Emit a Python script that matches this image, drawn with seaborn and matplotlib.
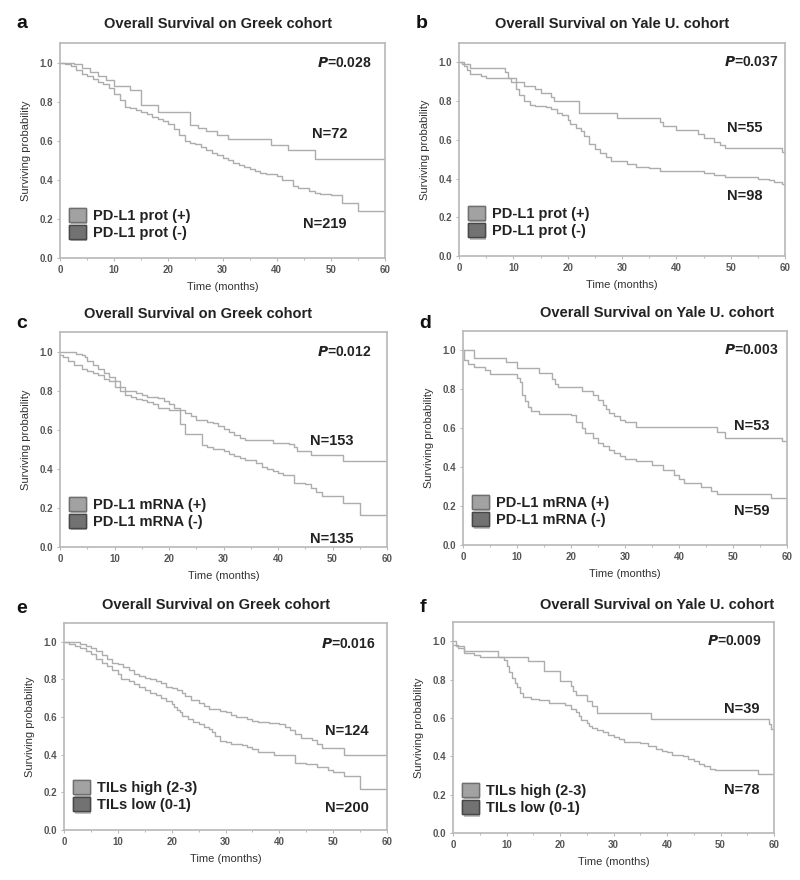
import numpy as np
import pandas as pd
import seaborn as sns
import matplotlib.pyplot as plt
import matplotlib.patheffects as pe
from matplotlib.patches import Patch
from matplotlib.ticker import MultipleLocator

# Kaplan-Meier curves (time in months, surviving probability)

# a) PD-L1 protein, Greek cohort
a_pos_t = [0, 2.5, 4, 5.5, 7, 8.5, 10, 13, 15, 18, 24, 25.5, 27, 29, 31, 39, 42, 47, 60]
a_pos_s = [1.0, 0.99, 0.97, 0.95, 0.93, 0.91, 0.88, 0.86, 0.785, 0.745, 0.68, 0.665, 0.65, 0.63, 0.61, 0.58, 0.55, 0.505, 0.505]
a_neg_t = [0, 1, 2, 3, 4, 5, 6, 7, 8, 9, 10, 11, 12, 13, 14, 15, 16, 17, 18, 19, 20, 21, 22, 23, 24, 25,
           26, 27, 28, 29, 30, 31, 32, 33, 34, 35, 36, 37, 38, 40, 41, 43, 44, 46, 47, 48, 50, 52, 55, 60]
a_neg_s = [1.0, 0.99, 0.98, 0.96, 0.94, 0.93, 0.915, 0.9, 0.89, 0.87, 0.84, 0.81, 0.775, 0.765, 0.755,
           0.745, 0.735, 0.72, 0.71, 0.70, 0.685, 0.66, 0.63, 0.60, 0.59, 0.585, 0.57, 0.55, 0.535, 0.525,
           0.51, 0.50, 0.485, 0.475, 0.465, 0.455, 0.445, 0.435, 0.43, 0.42, 0.40, 0.37, 0.36, 0.345, 0.335,
           0.325, 0.32, 0.28, 0.24, 0.24]

# b) PD-L1 protein, Yale cohort
b_pos_t = [0, 0.5, 2, 8.5, 9, 10.5, 12, 14, 15, 17, 17.5, 22, 29, 37, 37.5, 40, 44, 45, 47, 48, 49, 59.5, 60]
b_pos_s = [1.0, 0.99, 0.97, 0.95, 0.92, 0.90, 0.88, 0.86, 0.84, 0.82, 0.80, 0.74, 0.715, 0.69, 0.67, 0.65,
           0.63, 0.61, 0.59, 0.575, 0.56, 0.535, 0.535]
b_neg_t = [0, 1, 1.5, 2, 4, 5, 9.5, 10.5, 11, 12, 13, 14, 16, 17, 18, 19, 20, 20.5, 21.5, 22.5, 23, 24, 25,
           26, 27, 28, 31, 32.5, 35, 37, 45, 47, 49, 55, 57, 58, 59.5, 60]
b_neg_s = [1.0, 0.98, 0.96, 0.94, 0.93, 0.92, 0.90, 0.86, 0.83, 0.80, 0.78, 0.775, 0.77, 0.76, 0.74, 0.73,
           0.70, 0.68, 0.66, 0.645, 0.62, 0.58, 0.555, 0.53, 0.51, 0.49, 0.475, 0.46, 0.455, 0.44, 0.43,
           0.42, 0.41, 0.40, 0.39, 0.38, 0.37, 0.24]

# c) PD-L1 mRNA, Greek cohort
c_pos_t = [0, 3, 4, 4.5, 5, 6, 7, 8, 9, 10, 11, 12, 14, 15, 16, 18, 19, 20, 21, 22, 23, 24, 25, 27, 28, 29,
           30, 31, 32, 33, 34, 39, 42, 43, 43.5, 46, 52, 60]
c_pos_s = [1.0, 0.99, 0.98, 0.97, 0.95, 0.93, 0.91, 0.89, 0.87, 0.85, 0.82, 0.80, 0.79, 0.78, 0.77, 0.76,
           0.745, 0.73, 0.71, 0.70, 0.685, 0.67, 0.65, 0.64, 0.635, 0.62, 0.605, 0.59, 0.575, 0.56, 0.55,
           0.53, 0.525, 0.51, 0.49, 0.47, 0.44, 0.435]
c_neg_t = [0, 0.5, 1.5, 2.5, 4, 5, 6, 7, 8, 9, 10, 11, 12, 13, 14, 15, 16, 17, 18, 20, 22, 23, 26, 27, 28,
           30, 31, 32, 33, 34, 36, 37, 38, 39, 40, 41, 43, 45, 46, 47, 48, 52, 55, 60]
c_neg_s = [0.98, 0.97, 0.95, 0.93, 0.91, 0.90, 0.89, 0.88, 0.86, 0.85, 0.82, 0.80, 0.78, 0.77, 0.755, 0.75,
           0.74, 0.73, 0.71, 0.70, 0.63, 0.58, 0.52, 0.51, 0.50, 0.49, 0.475, 0.465, 0.455, 0.445, 0.43,
           0.41, 0.40, 0.39, 0.38, 0.37, 0.33, 0.32, 0.30, 0.28, 0.26, 0.225, 0.165, 0.165]

# d) PD-L1 mRNA, Yale cohort
d_pos_t = [0, 2, 8, 10, 14, 16.5, 17, 17.5, 22, 24, 25, 26, 26.5, 27, 28, 29, 30, 32, 47, 48.5, 59, 60]
d_pos_s = [1.0, 0.96, 0.94, 0.91, 0.885, 0.855, 0.83, 0.81, 0.79, 0.77, 0.745, 0.72, 0.70, 0.68, 0.665,
           0.645, 0.63, 0.605, 0.58, 0.55, 0.535, 0.52]
d_neg_t = [0, 0.2, 1, 2, 4, 5, 10, 10.5, 11, 11.5, 12, 12.5, 14, 20, 21, 22, 22.5, 24, 25, 26, 27, 28, 29,
           30, 32, 35, 37, 39, 40, 41, 44, 46, 47, 57, 60]
d_neg_s = [1.0, 0.95, 0.93, 0.915, 0.90, 0.88, 0.86, 0.84, 0.77, 0.74, 0.71, 0.69, 0.675, 0.67, 0.63,
           0.60, 0.575, 0.55, 0.525, 0.51, 0.49, 0.475, 0.455, 0.44, 0.43, 0.41, 0.385, 0.36, 0.34, 0.32,
           0.30, 0.28, 0.26, 0.24, 0.24]

# e) TILs, Greek cohort
e_pos_t = [0, 3, 4, 5, 6, 7, 8, 9, 10, 11, 12, 13, 14, 15, 16, 17, 18, 19, 20, 21, 22, 22.5, 23.5, 25, 26,
           27, 29, 30, 31, 32, 34, 35, 36, 38, 40, 41, 42, 43, 44, 46, 47, 48, 52, 60]
e_pos_s = [1.0, 0.99, 0.98, 0.965, 0.95, 0.93, 0.91, 0.89, 0.88, 0.865, 0.85, 0.83, 0.82, 0.81, 0.80,
           0.79, 0.78, 0.76, 0.755, 0.745, 0.73, 0.71, 0.69, 0.675, 0.66, 0.645, 0.635, 0.625, 0.61, 0.60,
           0.59, 0.58, 0.575, 0.57, 0.565, 0.55, 0.53, 0.51, 0.49, 0.48, 0.455, 0.435, 0.40, 0.40]
e_neg_t = [0, 1, 2, 3, 4, 5, 6, 7, 8, 9, 10, 10.5, 12, 13, 14, 15, 16, 17, 18, 19, 20, 20.5, 21, 21.5, 22,
           23, 24, 25, 26, 27, 27.5, 28, 29, 30, 31, 33, 34, 35, 36, 39, 43, 45, 47, 49, 50, 52, 55, 60]
e_neg_s = [1.0, 0.99, 0.98, 0.965, 0.95, 0.935, 0.91, 0.885, 0.87, 0.85, 0.83, 0.805, 0.79, 0.775, 0.76,
           0.745, 0.73, 0.715, 0.70, 0.685, 0.67, 0.655, 0.64, 0.625, 0.605, 0.59, 0.575, 0.565, 0.55,
           0.535, 0.52, 0.50, 0.475, 0.465, 0.455, 0.45, 0.44, 0.43, 0.415, 0.40, 0.355, 0.35, 0.335,
           0.32, 0.31, 0.285, 0.22, 0.22]

# f) TILs, Yale cohort
f_pos_t = [0, 0.5, 2, 8.5, 14, 17, 20, 22, 22.5, 23, 25, 26, 27, 37, 59, 59.5, 60]
f_pos_s = [1.0, 0.975, 0.95, 0.92, 0.895, 0.845, 0.79, 0.765, 0.74, 0.72, 0.69, 0.66, 0.625, 0.595,
           0.57, 0.54, 0.50]
f_neg_t = [0, 1, 2, 4, 5, 9.5, 10, 10.5, 11, 11.5, 12, 12.5, 13, 14.5, 16, 18, 21, 22, 23, 23.5, 24, 25,
           25.5, 26, 27, 28, 29, 30, 31, 32, 35, 36.5, 38, 39, 40, 41, 43, 44, 45, 46, 47, 48, 49, 57, 60]
f_neg_s = [0.98, 0.965, 0.94, 0.93, 0.915, 0.90, 0.87, 0.84, 0.81, 0.78, 0.76, 0.73, 0.71, 0.70, 0.695,
           0.68, 0.665, 0.645, 0.63, 0.61, 0.59, 0.575, 0.56, 0.55, 0.535, 0.525, 0.51, 0.50, 0.49, 0.475,
           0.47, 0.455, 0.44, 0.43, 0.42, 0.405, 0.40, 0.385, 0.375, 0.36, 0.35, 0.335, 0.33, 0.31, 0.18]

letters = ["a", "b", "c", "d", "e", "f"]
titles = ["Overall Survival on Greek cohort", "Overall Survival on Yale U. cohort"] * 3
p_values = ["0.028", "0.037", "0.012", "0.003", "0.016", "0.009"]
n_pos = ["N=72", "N=55", "N=153", "N=53", "N=124", "N=39"]
n_neg = ["N=219", "N=98", "N=135", "N=59", "N=200", "N=78"]
legend_labels = [("PD-L1 prot (+)", "PD-L1 prot (-)"), ("PD-L1 prot (+)", "PD-L1 prot (-)"),
                 ("PD-L1 mRNA (+)", "PD-L1 mRNA (-)"), ("PD-L1 mRNA (+)", "PD-L1 mRNA (-)"),
                 ("TILs high (2-3)", "TILs low (0-1)"), ("TILs high (2-3)", "TILs low (0-1)")]
curves = [(a_pos_t, a_pos_s, a_neg_t, a_neg_s), (b_pos_t, b_pos_s, b_neg_t, b_neg_s),
          (c_pos_t, c_pos_s, c_neg_t, c_neg_s), (d_pos_t, d_pos_s, d_neg_t, d_neg_s),
          (e_pos_t, e_pos_s, e_neg_t, e_neg_s), (f_pos_t, f_pos_s, f_neg_t, f_neg_s)]

# layout in pixels of an 800x880 canvas: axes box [left, top, right, bottom], title x/y, letter x/y
boxes = [(60, 43, 385, 258), (459, 43, 785, 256), (60, 332, 387, 547),
         (463, 331, 787, 545), (64, 623, 387, 830), (453, 622, 774, 833)]
title_xy = [(218, 24), (612, 24), (198, 314), (657, 313), (216, 605), (657, 605)]
letter_xy = [(22, 24), (422, 24), (22, 323), (425, 323), (22, 608), (423, 607)]
p_xy = [(57.5, 1.0), (58.8, 1.0), (57.2, 1.0), (58.5, 1.0), (57.8, 0.99), (57.7, 1.0)]
npos_xy = [(49.8, 0.635), (52.6, 0.66), (49.9, 0.54), (53.5, 0.61), (52.6, 0.524), (54, 0.645)]
nneg_xy = [(48.9, 0.176), (52.6, 0.31), (49.9, 0.04), (53.5, 0.175), (52.6, 0.115), (54, 0.223)]

sns.set_style("white")
plt.rcParams['font.family'] = ['Liberation Sans', 'DejaVu Sans']

W, H = 800, 880
fig = plt.figure(figsize=(8, 8.8), dpi=100)

line_col = "#adadad"
frame_col = "#b8b8b8"

for i in range(6):
    l, t, r, b = boxes[i]
    ax = fig.add_axes([l / W, 1 - b / H, (r - l) / W, (b - t) / H])
    pt, ps, nt, ns = curves[i]
    sns.lineplot(x=pt, y=ps, ax=ax, drawstyle="steps-post", color=line_col, linewidth=1.0,
                 estimator=None, legend=False)
    sns.lineplot(x=nt, y=ns, ax=ax, drawstyle="steps-post", color=line_col, linewidth=1.0,
                 estimator=None, legend=False)
    ax.set_xlim(0, 60)
    ax.set_ylim(0, 1.1)
    ax.xaxis.set_major_locator(MultipleLocator(10))
    ax.xaxis.set_minor_locator(MultipleLocator(5))
    ax.set_yticks([0, 0.2, 0.4, 0.6, 0.8, 1.0])
    ax.set_yticklabels(["0.0", "0.2", "0.4", "0.6", "0.8", "1.0"])
    ax.tick_params(axis="both", which="both", direction="out", colors=frame_col,
                   labelcolor="#555555", labelsize=7, length=2.5, width=0.8, pad=2.5)
    ax.tick_params(axis="both", which="minor", length=1.5)
    ax.tick_params(axis="both", which="both", bottom=True, left=True)
    for lab in ax.get_xticklabels() + ax.get_yticklabels():
        lab.set_fontweight("bold")
    for sp in ax.spines.values():
        sp.set_color(frame_col)
        sp.set_linewidth(1.2)
    ax.set_xlabel("Time (months)", fontsize=8, color="#333333", labelpad=5)
    ax.set_ylabel("Surviving probability", fontsize=8, color="#333333", labelpad=6)

    ax.text(p_xy[i][0], p_xy[i][1], r"$\mathbfit{P}$=" + p_values[i], ha="right", va="center",
            fontsize=10, fontweight="bold", color="#222222")
    ax.text(npos_xy[i][0], npos_xy[i][1], n_pos[i], ha="center", va="center",
            fontsize=10.5, fontweight="bold", color="#222222")
    ax.text(nneg_xy[i][0], nneg_xy[i][1], n_neg[i], ha="center", va="center",
            fontsize=10.5, fontweight="bold", color="#222222")

    handles = [Patch(facecolor="#a2a2a2", edgecolor="#6f6f6f", linewidth=1.0, label=legend_labels[i][0]),
               Patch(facecolor="#727272", edgecolor="#474747", linewidth=1.0, label=legend_labels[i][1])]
    leg = ax.legend(handles=handles, loc="lower left", bbox_to_anchor=(0.0, 0.04), frameon=False,
                    handlelength=1.1, handleheight=1.1, handletextpad=0.5, labelspacing=0.15,
                    borderaxespad=0.25, prop={"weight": "bold", "size": 10.5})
    for txt in leg.get_texts():
        txt.set_color("#222222")
    for p in leg.get_patches():
        p.set_path_effects([pe.withSimplePatchShadow(offset=(1.2, -1.8), shadow_rgbFace="#777777",
                                                     alpha=0.45), pe.Normal()])

    fig.text(title_xy[i][0] / W, 1 - title_xy[i][1] / H, titles[i], ha="center", va="center",
             fontsize=10.5, fontweight="bold", color="#222222")
    fig.text(letter_xy[i][0] / W, 1 - letter_xy[i][1] / H, letters[i], ha="center", va="center",
             fontsize=14, fontweight="bold", color="#111111")

fig.savefig("out.png", dpi=100, facecolor="white")
